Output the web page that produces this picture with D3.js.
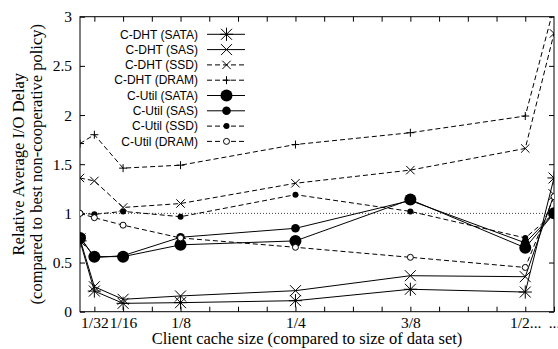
<!DOCTYPE html>
<html>
<head>
<meta charset="utf-8">
<script src="https://cdn.jsdelivr.net/npm/d3@7"></script>
<style>
  html, body { margin: 0; padding: 0; background: #fff; }
  svg { display: block; }
</style>
</head>
<body>
<svg id="chart" width="558" height="349"></svg>
<script>
// ---- data ----
const xValues = [1/64, 1/32, 1/16, 1/8, 1/4, 3/8, 1/2, 17/32];
const xTickValues = [1/32, 1/16, 1/8, 1/4, 3/8, 1/2, 17/32];
const xTickLabels = ["1/32", "1/16", "1/8", "1/4", "3/8", "1/2...", "..."];
const yTickValues = [0, 0.5, 1, 1.5, 2, 2.5, 3];
const yTickLabels = ["0", "0.5", "1", "1.5", "2", "2.5", "3"];

const seriesNames = ["C-DHT (SATA)", "C-DHT (SAS)", "C-DHT (SSD)", "C-DHT (DRAM)",
                     "C-Util (SATA)", "C-Util (SAS)", "C-Util (SSD)", "C-Util (DRAM)"];
const dhtSata  = [0.72, 0.21, 0.085, 0.092, 0.112, 0.228, 0.20, 1.36];
const dhtSas   = [0.74, 0.254, 0.126, 0.16, 0.214, 0.366, 0.356, 1.19];
const dhtSsd   = [1.36, 1.33, 1.06, 1.10, 1.306, 1.44, 1.66, 2.83];
const dhtDram  = [1.71, 1.80, 1.46, 1.49, 1.70, 1.82, 1.99, 3.1];
const utilSata = [0.75, 0.56, 0.56, 0.68, 0.72, 1.14, 0.65, 1.0];
const utilSas  = [0.76, 0.55, 0.57, 0.757, 0.848, 1.13, 0.70, 1.0];
const utilSsd  = [1.0, 0.99, 1.02, 0.966, 1.19, 1.02, 0.75, 1.0];
const utilDram = [1.0, 0.956, 0.88, 0.75, 0.655, 0.553, 0.45, 1.17];
const referenceLevel = 1;

// ---- styles ----
const seriesValues = [dhtSata, dhtSas, dhtSsd, dhtDram, utilSata, utilSas, utilSsd, utilDram];
const seriesMarker = ["star", "cross", "crossSmall", "plus", "circleBig", "circleMed", "circleSmall", "circleOpen"];
const seriesDashed = [false, false, true, true, false, false, true, true];

const svg = d3.select("#chart");
const L = 80, R = 554, T = 16.7, B = 311.7;
const x = d3.scaleLinear().domain([1/64, 17/32]).range([L, R]);
const y = d3.scaleLinear().domain([0, 3]).range([B, T]);

const serif = "'Liberation Serif', 'Times New Roman', serif";
const sans = "'Liberation Sans', Arial, sans-serif";

svg.append("defs").append("clipPath").attr("id", "clip")
  .append("rect").attr("x", L).attr("y", T).attr("width", R - L).attr("height", B - T);

// reference dotted line
svg.append("line")
  .attr("x1", L).attr("x2", R)
  .attr("y1", y(referenceLevel)).attr("y2", y(referenceLevel))
  .attr("stroke", "#444").attr("stroke-width", 1).attr("stroke-dasharray", "1,2");

// axes
function styleAxis(g) {
  g.select(".domain").remove();
  g.selectAll(".tick line").attr("stroke", "#000").attr("stroke-width", 1);
  g.selectAll(".tick text").attr("font-family", serif).attr("font-size", 15.5).attr("fill", "#000");
  g.selectAll(".tick text").filter(function () { return this.textContent === ""; }).remove();
}
const xb = svg.append("g").attr("transform", `translate(0,${B})`)
  .call(d3.axisBottom(x).tickValues(d3.range(1, 18).map(i => i / 32)).tickSize(-5).tickPadding(5)
    .tickFormat(v => { const i = xTickValues.findIndex(t => Math.abs(t - v) < 1e-9); return i >= 0 ? xTickLabels[i] : ""; }));
styleAxis(xb);
const xt = svg.append("g").attr("transform", `translate(0,${T})`)
  .call(d3.axisTop(x).tickValues(d3.range(1, 17).map(i => i / 32)).tickSize(-5).tickFormat(""));
styleAxis(xt);
const yl = svg.append("g").attr("transform", `translate(${L},0)`)
  .call(d3.axisLeft(y).tickValues(yTickValues).tickSize(-5).tickPadding(8)
    .tickFormat((v, i) => yTickLabels[i]));
styleAxis(yl);
const yr = svg.append("g").attr("transform", `translate(${R},0)`)
  .call(d3.axisRight(y).tickValues(yTickValues).tickSize(-5).tickFormat(""));
styleAxis(yr);

// frame
svg.append("rect").attr("x", L).attr("y", T).attr("width", R - L).attr("height", B - T)
  .attr("fill", "none").attr("stroke", "#000").attr("stroke-width", 1);

// markers
function drawMarker(g, type, cx, cy) {
  const ln = (x1, y1, x2, y2) => g.append("line").attr("x1", cx + x1).attr("y1", cy + y1)
    .attr("x2", cx + x2).attr("y2", cy + y2).attr("stroke", "#000").attr("stroke-width", 1);
  if (type === "star") {
    const s = 5.5;
    ln(-s, -s, s, s); ln(-s, s, s, -s); ln(-s * 1.2, 0, s * 1.2, 0); ln(0, -s * 1.2, 0, s * 1.2);
  } else if (type === "cross") {
    const s = 5.5; ln(-s, -s, s, s); ln(-s, s, s, -s);
  } else if (type === "crossSmall") {
    const s = 4.2; ln(-s, -s, s, s); ln(-s, s, s, -s);
  } else if (type === "plus") {
    const s = 4; ln(-s, 0, s, 0); ln(0, -s, 0, s);
  } else if (type === "circleBig") {
    g.append("circle").attr("cx", cx).attr("cy", cy).attr("r", 6).attr("fill", "#000");
  } else if (type === "circleMed") {
    g.append("circle").attr("cx", cx).attr("cy", cy).attr("r", 4.3).attr("fill", "#000");
  } else if (type === "circleSmall") {
    g.append("circle").attr("cx", cx).attr("cy", cy).attr("r", 3).attr("fill", "#000");
  } else if (type === "circleOpen") {
    g.append("circle").attr("cx", cx).attr("cy", cy).attr("r", 3).attr("fill", "#fff")
      .attr("stroke", "#000").attr("stroke-width", 1);
  }
}

const plot = svg.append("g").attr("clip-path", "url(#clip)");
const line = d3.line().x(d => x(d[0])).y(d => y(d[1]));
seriesValues.forEach((vals, si) => {
  const pts = xValues.map((xv, i) => [xv, vals[i]]);
  plot.append("path").attr("d", line(pts)).attr("fill", "none")
    .attr("stroke", "#000").attr("stroke-width", 1)
    .attr("stroke-dasharray", seriesDashed[si] ? "5,3" : null);
});
seriesValues.forEach((vals, si) => {
  const mg = plot.append("g");
  xValues.forEach((xv, i) => drawMarker(mg, seriesMarker[si], x(xv), y(vals[i])));
});

// legend
const lg = svg.append("g");
seriesNames.forEach((name, i) => {
  const cy = 34.3 + i * 15.3;
  lg.append("text").attr("x", 198).attr("y", cy + 4.2).attr("text-anchor", "end")
    .attr("font-family", sans).attr("font-size", 12).attr("fill", "#000").text(name);
  lg.append("line").attr("x1", 207).attr("x2", 245).attr("y1", cy).attr("y2", cy)
    .attr("stroke", "#000").attr("stroke-width", 1)
    .attr("stroke-dasharray", seriesDashed[i] ? "5,3" : null);
  drawMarker(lg, seriesMarker[i], 226.5, cy);
});

// axis titles
svg.append("text").attr("x", 307).attr("y", 344).attr("text-anchor", "middle")
  .attr("font-family", serif).attr("font-size", 16.5).attr("fill", "#000")
  .text("Client cache size (compared to size of data set)");
const yt = svg.append("text").attr("transform", `translate(0,${(T + B) / 2}) rotate(-90)`)
  .attr("text-anchor", "middle").attr("font-family", serif).attr("font-size", 16.5).attr("fill", "#000");
yt.append("tspan").attr("x", 0).attr("y", 24).text("Relative Average I/O Delay");
yt.append("tspan").attr("x", 0).attr("y", 42).text("(compared to best non-cooperative policy)");
</script>
</body>
</html>
